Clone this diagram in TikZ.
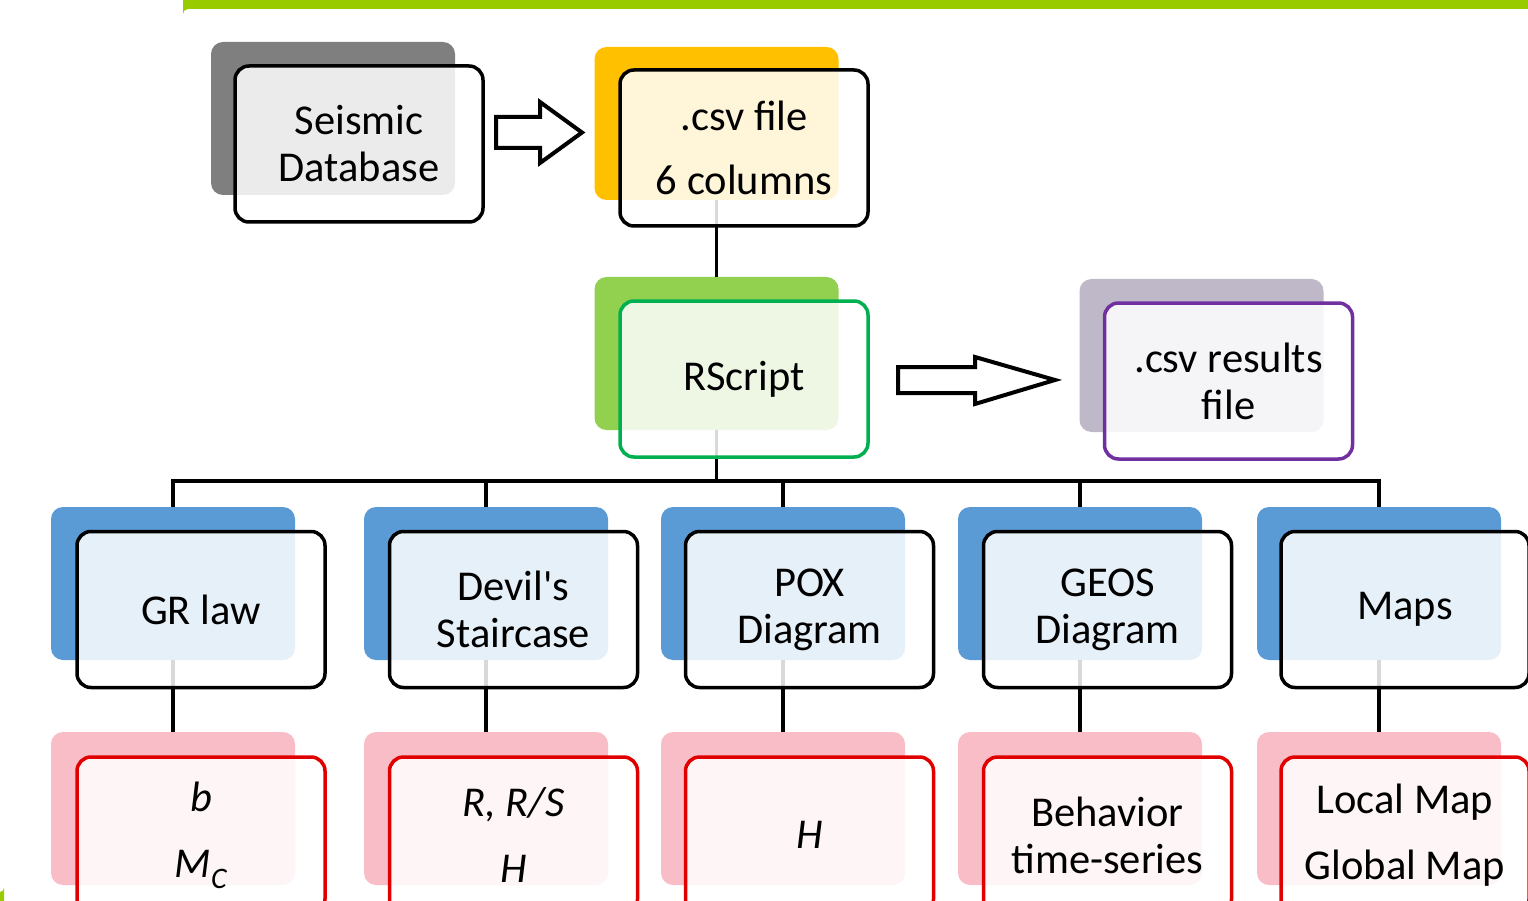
\documentclass[tikz,border=0pt]{standalone}
\usepackage{fontspec}
\setmainfont{Carlito}[Ligatures=TeXOff]
\definecolor{barGreen}{HTML}{99CC00}
\definecolor{seisGray}{HTML}{7F7F7F}
\definecolor{csvOrange}{HTML}{FFC000}
\definecolor{rsGreen}{HTML}{92D050}
\definecolor{rsBorder}{HTML}{00B050}
\definecolor{resGray}{HTML}{BFB8C8}
\definecolor{resBorder}{HTML}{7030A0}
\definecolor{l2Blue}{HTML}{5B9BD5}
\definecolor{l3Pink}{HTML}{F8BDC7}
\definecolor{l3Red}{HTML}{E00000}
\tikzset{
  backbox/.style={rectangle, rounded corners=12pt, draw=none, minimum width=244pt, minimum height=153pt, inner sep=0pt},
  frontbox/.style={rectangle, rounded corners=14pt, line width=3.5pt, fill=white, fill opacity=0.85, text opacity=1,
    minimum width=248pt, minimum height=156pt, inner sep=0pt, align=center,
    font=\fontsize{42.5}{47}\selectfont},
  link/.style={line width=3.5pt, black},
  blockarrow/.style={line width=4pt, fill=white, line join=miter},
}
\begin{document}
\begin{tikzpicture}[x=1pt,y=-1pt]
\useasboundingbox (0,0) rectangle (1528,901);
\clip (0,0) rectangle (1528,901);
% decorations
\fill[barGreen] (183,0) -- (1528,0) -- (1528,9) -- (188,9) arc[start angle=270,end angle=180,radius=5] -- cycle;
\fill[barGreen] (0,892) arc[start angle=90,end angle=0,radius=4] -- (4,901) -- (0,901) -- cycle;
% back boxes
\node[backbox, fill=seisGray] (seisB) at (333,118.5) {};
\node[backbox, fill=csvOrange] (csvB) at (716.5,123.5) {};
\node[backbox, fill=rsGreen] (rsB) at (716.5,353.5) {};
\node[backbox, fill=resGray] (resB) at (1201.5,355.5) {};
\node[backbox, fill=l2Blue] (grB) at (173,583.5) {};
\node[backbox, fill=l2Blue] (devB) at (486,583.5) {};
\node[backbox, fill=l2Blue] (poxB) at (783,583.5) {};
\node[backbox, fill=l2Blue] (geoB) at (1080,583.5) {};
\node[backbox, fill=l2Blue] (mapB) at (1379,583.5) {};
\node[backbox, fill=l3Pink] (grC) at (173,808.5) {};
\node[backbox, fill=l3Pink] (devC) at (486,808.5) {};
\node[backbox, fill=l3Pink] (poxC) at (783,808.5) {};
\node[backbox, fill=l3Pink] (geoC) at (1080,808.5) {};
\node[backbox, fill=l3Pink] (mapC) at (1379,808.5) {};
% connectors
\coordinate (bus) at (716.5,481);
\draw[link] (csvB.south) -- (rsB.north);
\draw[link] (rsB.south) -- (bus);
\draw[link] (grB.north) |- (bus);
\draw[link] (devB.north) |- (bus);
\draw[link] (poxB.north) |- (bus);
\draw[link] (geoB.north) |- (bus);
\draw[link] (mapB.north) |- (bus);
\draw[link] (grB.south) -- (grC.north);
\draw[link] (devB.south) -- (devC.north);
\draw[link] (poxB.south) -- (poxC.north);
\draw[link] (geoB.south) -- (geoC.north);
\draw[link] (mapB.south) -- (mapC.north);
% front boxes
\node[frontbox, draw=black] (seis) at (359,144) {Seismic\\Database};
\node[frontbox, draw=black] (csv) at (744,148) {.csv file\\[17pt]6 columns};
\node[frontbox, draw=rsBorder] (rs) at (744,379) {RScript};
\node[frontbox, draw=resBorder] (res) at (1228.5,381) {.csv results\\file};
\node[frontbox, draw=black] (gr) at (201,609.5) {GR law};
\node[frontbox, draw=black] (dev) at (513.5,609.5) {Devil's\\Staircase};
\node[frontbox, draw=black] (pox) at (809.5,609.5) {POX\\Diagram};
\node[frontbox, draw=black] (geo) at (1107.5,609.5) {GEOS\\Diagram};
\node[frontbox, draw=black] (map) at (1405,609.5) {Maps};
\node[frontbox, draw=l3Red] (grR) at (201,835) {\textit{b}\\[19pt]\textit{M\textsubscript{C}}};
\node[frontbox, draw=l3Red] (devR) at (513.5,835) {\textit{R, R/S}\\[19pt]\textit{H}};
\node[frontbox, draw=l3Red] (poxR) at (809.5,835) {\textit{H}};
\node[frontbox, draw=l3Red] (geoR) at (1107.5,835) {Behavior\\time-series};
\node[frontbox, draw=l3Red] (mapR) at (1405,835) {Local Map\\[19pt]Global Map};
% block arrows
\draw[blockarrow] (496,117) -- (540,117) -- (540,102) -- (582,132.5) -- (540,163) -- (540,148) -- (496,148) -- cycle;
\draw[blockarrow] (898,367) -- (975,367) -- (975,357) -- (1055,380) -- (975,404) -- (975,393) -- (898,393) -- cycle;
\end{tikzpicture}
\end{document}
